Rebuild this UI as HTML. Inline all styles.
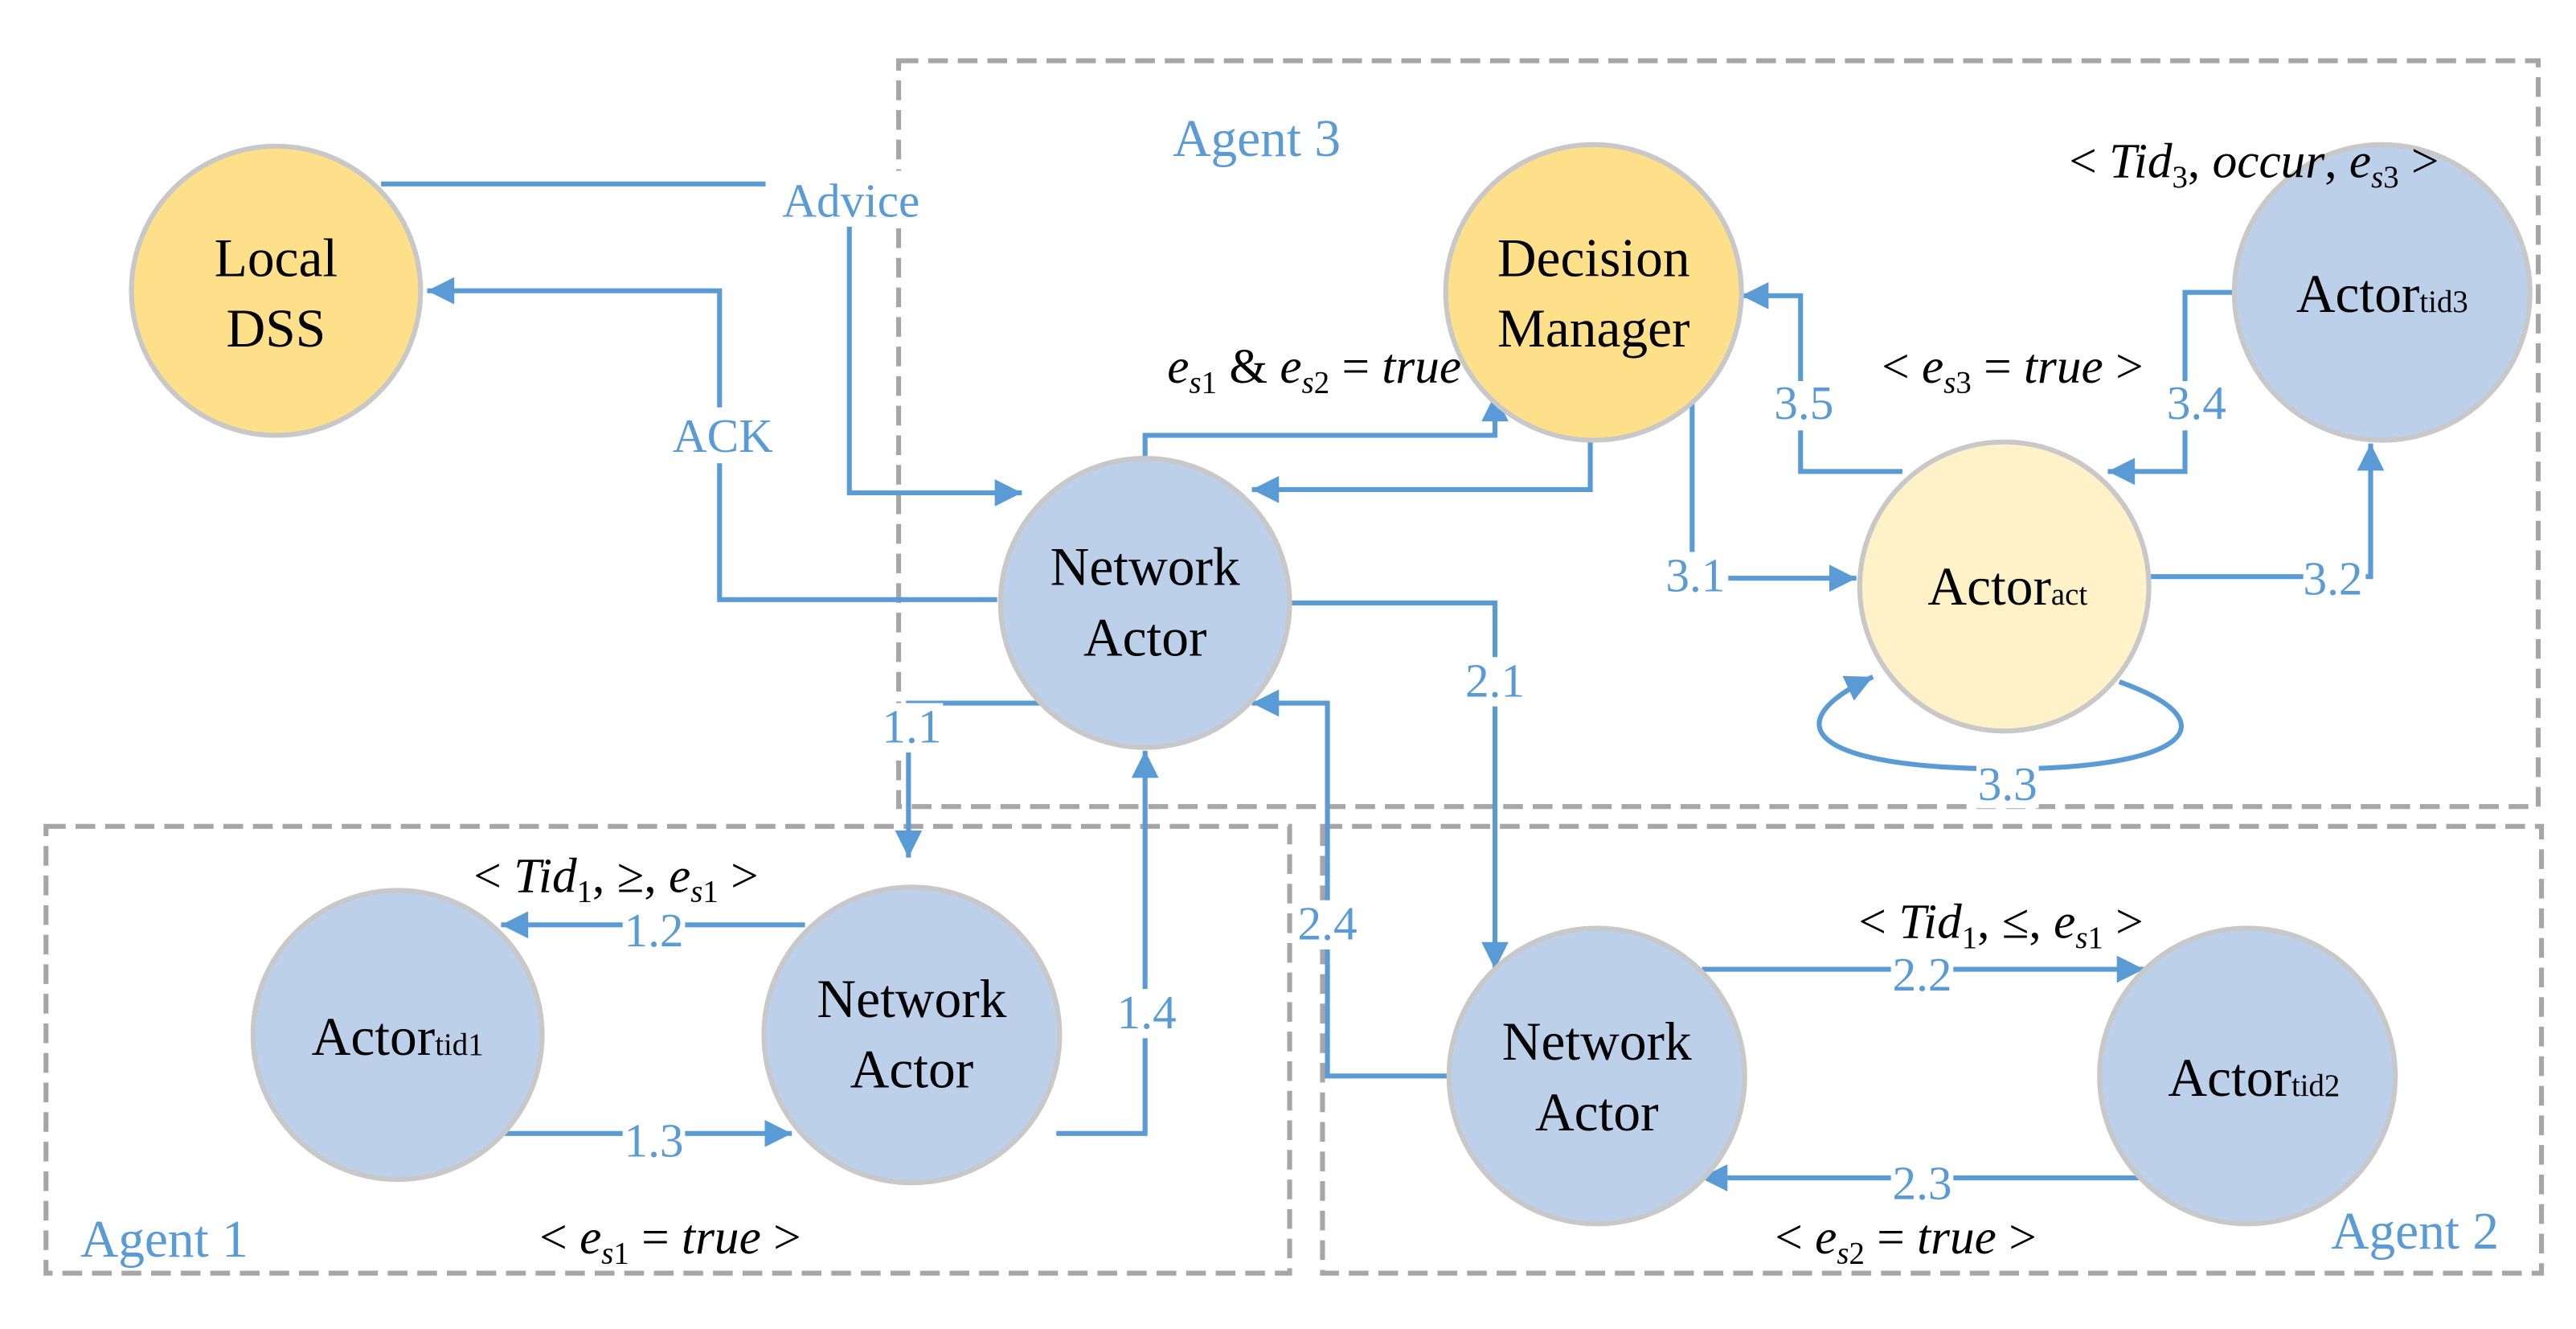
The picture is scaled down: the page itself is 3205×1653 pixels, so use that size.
<!DOCTYPE html>
<html><head><meta charset="utf-8"><style>html,body{margin:0;padding:0;background:#fff}svg{display:block}</style></head>
<body>
<svg width="3205" height="1653" viewBox="0 0 1568 809" preserveAspectRatio="none" xmlns="http://www.w3.org/2000/svg">
<defs>
<marker id="a" viewBox="0 0 10 10" refX="10" refY="5" markerWidth="6.5" markerHeight="5.5" orient="auto" markerUnits="strokeWidth"><path d="M0,0 L10,5 L0,10 z" fill="#5b9bd5"/></marker>
</defs>
<g fill="none" stroke="#a6a6a6" stroke-width="3" stroke-dasharray="12,6">
<rect x="547" y="37" width="998" height="454"/>
<rect x="28" y="503" width="757" height="272"/>
<rect x="805" y="503" width="742" height="272"/>
</g>
<g fill="none" stroke="#5b9bd5" stroke-width="3">
<path d="M232,112 H517 V300 H622" marker-end="url(#a)"/>
<path d="M607,365 H438 V177 H260" marker-end="url(#a)"/>
<path d="M697,278 V265 H910 V240" marker-end="url(#a)"/>
<path d="M968,240 V298 H762" marker-end="url(#a)"/>
<path d="M1030,240 V352 H1130" marker-end="url(#a)"/>
<path d="M1308,351 H1443 V270" marker-end="url(#a)"/>
<path d="M1360,178 H1330 V287 H1283" marker-end="url(#a)"/>
<path d="M1158,287 H1096 V180 H1060" marker-end="url(#a)"/>
<path d="M1290,415 C1360,440 1330,468 1222,468 C1100,468 1080,440 1140,412" marker-end="url(#a)"/>
<path d="M633,428 H553 V522" marker-end="url(#a)"/>
<path d="M490,563 H305" marker-end="url(#a)"/>
<path d="M305,690 H482" marker-end="url(#a)"/>
<path d="M643,690 H697 V457" marker-end="url(#a)"/>
<path d="M786,367 H910 V590" marker-end="url(#a)"/>
<path d="M1036,590 H1305" marker-end="url(#a)"/>
<path d="M1308,717 H1035" marker-end="url(#a)"/>
<path d="M882,655 H808 V428 H762" marker-end="url(#a)"/>
</g>
<g stroke="#c8c8c8" stroke-width="3">
<circle cx="168" cy="177" r="88" fill="#ffe08a"/>
<circle cx="970" cy="178" r="90" fill="#ffe08a"/>
<circle cx="1450" cy="178" r="90" fill="#bcd0e9"/>
<circle cx="697" cy="367" r="88" fill="#bcd0e9"/>
<circle cx="1220" cy="357" r="88" fill="#fff1c8"/>
<circle cx="242" cy="630" r="88" fill="#bcd0e9"/>
<circle cx="555" cy="630" r="90" fill="#bcd0e9"/>
<circle cx="972" cy="655" r="90" fill="#bcd0e9"/>
<circle cx="1368" cy="655" r="90" fill="#bcd0e9"/>
</g>
<g font-family="Liberation Serif, serif" font-size="33" fill="#000" text-anchor="middle">
<text x="168" y="168">Local</text><text x="168" y="211">DSS</text>
<text x="970" y="168">Decision</text><text x="970" y="211">Manager</text>
<text x="1450" y="190">Actor<tspan font-size="19">tid3</tspan></text>
<text x="697" y="356">Network</text><text x="697" y="399">Actor</text>
<text x="1222" y="368">Actor<tspan font-size="19">act</tspan></text>
<text x="242" y="642">Actor<tspan font-size="19">tid1</tspan></text>
<text x="555" y="619">Network</text><text x="555" y="662">Actor</text>
<text x="972" y="645">Network</text><text x="972" y="688">Actor</text>
<text x="1372" y="667">Actor<tspan font-size="19">tid2</tspan></text>
</g>
<g fill="#fff">
<rect x="466" y="104" width="104" height="34"/>
<rect x="402" y="248" width="76" height="34"/>
<rect x="1014" y="336" width="38" height="30"/>
<rect x="1402" y="338" width="38" height="30"/>
<rect x="1203" y="462" width="38" height="30"/>
<rect x="1318" y="232" width="38" height="30"/>
<rect x="1079" y="232" width="38" height="30"/>
<rect x="536" y="428" width="38" height="30"/>
<rect x="379" y="552" width="38" height="30"/>
<rect x="379" y="680" width="38" height="30"/>
<rect x="679" y="602" width="38" height="30"/>
<rect x="891" y="400" width="38" height="30"/>
<rect x="1151" y="578" width="38" height="30"/>
<rect x="1151" y="706" width="38" height="30"/>
<rect x="789" y="548" width="38" height="30"/>
</g>
<g font-family="Liberation Serif, serif" font-size="29" fill="#5b9bd5" text-anchor="middle">
<text x="518" y="132">Advice</text>
<text x="440" y="275">ACK</text>
<text x="765" y="95" font-size="32">Agent 3</text>
<text x="100" y="765" font-size="32">Agent 1</text>
<text x="1470" y="760" font-size="32">Agent 2</text>
<text x="1032" y="360">3.1</text>
<text x="1420" y="362">3.2</text>
<text x="1222" y="487">3.3</text>
<text x="1337" y="255">3.4</text>
<text x="1098" y="255">3.5</text>
<text x="555" y="452">1.1</text>
<text x="398" y="576">1.2</text>
<text x="398" y="704">1.3</text>
<text x="698" y="626">1.4</text>
<text x="910" y="424">2.1</text>
<text x="1170" y="603">2.2</text>
<text x="1170" y="730">2.3</text>
<text x="808" y="572">2.4</text>
</g>
<g font-family="Liberation Serif, serif" font-size="30" fill="#000" text-anchor="middle" font-style="italic">
<text x="800" y="233">e<tspan font-size="19" dy="6">s</tspan><tspan font-size="19" font-style="normal">1</tspan><tspan dy="-6" font-style="normal"> &amp; </tspan>e<tspan font-size="19" dy="6">s</tspan><tspan font-size="19" font-style="normal">2</tspan><tspan dy="-6" font-style="normal"> = </tspan>true</text>
<text x="1225" y="233"><tspan font-style="normal">&lt; </tspan>e<tspan font-size="19" dy="6">s</tspan><tspan font-size="19" font-style="normal">3</tspan><tspan dy="-6" font-style="normal"> = </tspan>true<tspan font-style="normal"> &gt;</tspan></text>
<text x="1372" y="108"><tspan font-style="normal">&lt; </tspan>Tid<tspan font-size="19" dy="6" font-style="normal">3</tspan><tspan dy="-6" font-style="normal">, </tspan>occur<tspan font-style="normal">, </tspan>e<tspan font-size="19" dy="6">s</tspan><tspan font-size="19" font-style="normal">3</tspan><tspan dy="-6" font-style="normal"> &gt;</tspan></text>
<text x="375" y="543"><tspan font-style="normal">&lt; </tspan>Tid<tspan font-size="19" dy="6" font-style="normal">1</tspan><tspan dy="-6" font-style="normal">, ≥, </tspan>e<tspan font-size="19" dy="6">s</tspan><tspan font-size="19" font-style="normal">1</tspan><tspan dy="-6" font-style="normal"> &gt;</tspan></text>
<text x="408" y="763"><tspan font-style="normal">&lt; </tspan>e<tspan font-size="19" dy="6">s</tspan><tspan font-size="19" font-style="normal">1</tspan><tspan dy="-6" font-style="normal"> = </tspan>true<tspan font-style="normal"> &gt;</tspan></text>
<text x="1218" y="571"><tspan font-style="normal">&lt; </tspan>Tid<tspan font-size="19" dy="6" font-style="normal">1</tspan><tspan dy="-6" font-style="normal">, ≤, </tspan>e<tspan font-size="19" dy="6">s</tspan><tspan font-size="19" font-style="normal">1</tspan><tspan dy="-6" font-style="normal"> &gt;</tspan></text>
<text x="1160" y="763"><tspan font-style="normal">&lt; </tspan>e<tspan font-size="19" dy="6">s</tspan><tspan font-size="19" font-style="normal">2</tspan><tspan dy="-6" font-style="normal"> = </tspan>true<tspan font-style="normal"> &gt;</tspan></text>
</g>
</svg>
</body></html>
